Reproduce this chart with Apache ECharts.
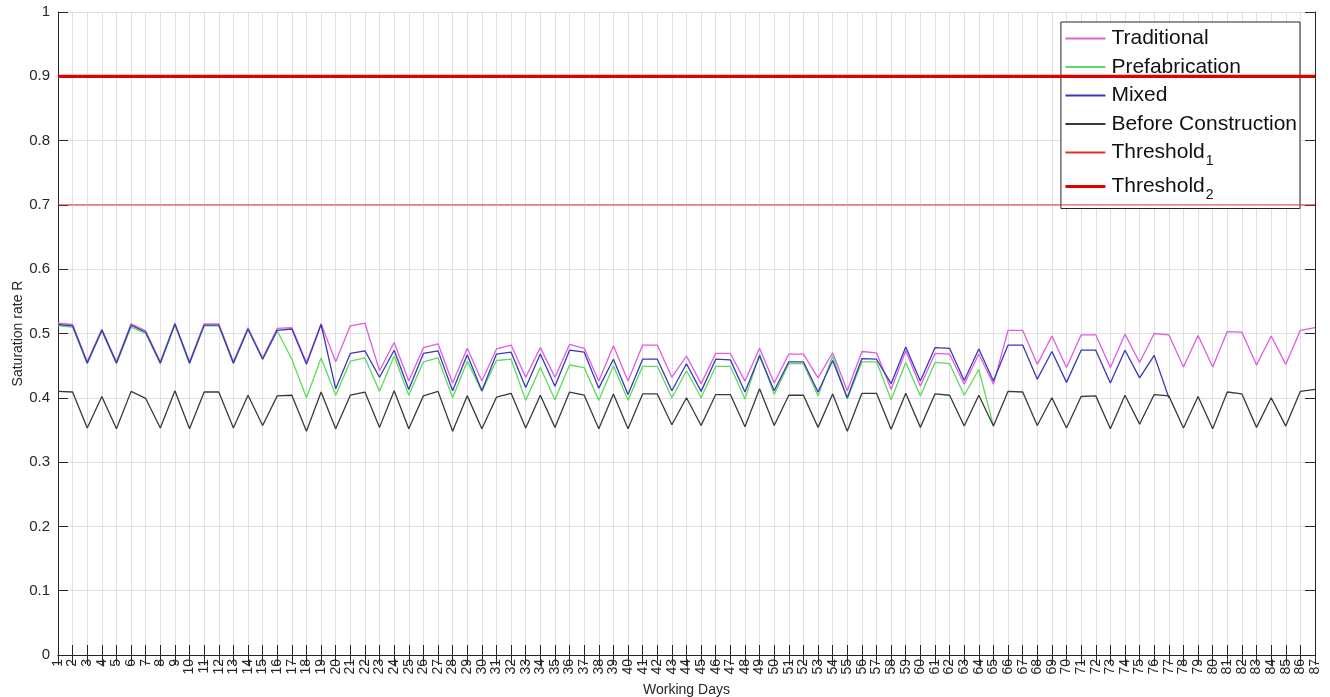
<!DOCTYPE html>
<html>
<head>
<meta charset="utf-8">
<script src="https://cdn.jsdelivr.net/npm/echarts@6/dist/echarts.min.js"></script>
<style>html,body{margin:0;padding:0;background:#fff}#c{width:1330px;height:697px}</style>
</head>
<body>
<div id="c"></div>
<script>
const days = ['1','2','3','4','5','6','7','8','9','10','11','12','13','14','15','16','17','18','19','20','21','22','23','24','25','26','27','28','29','30','31','32','33','34','35','36','37','38','39','40','41','42','43','44','45','46','47','48','49','50','51','52','53','54','55','56','57','58','59','60','61','62','63','64','65','66','67','68','69','70','71','72','73','74','75','76','77','78','79','80','81','82','83','84','85','86','87'];

const traditional = [0.516,0.514,0.456,0.507,0.456,0.515,0.504,0.456,0.516,0.456,0.515,0.515,0.456,0.509,0.462,0.508,0.509,0.455,0.515,0.456,0.512,0.516,0.442,0.486,0.426,0.478,0.484,0.423,0.477,0.426,0.476,0.482,0.432,0.478,0.432,0.483,0.477,0.426,0.481,0.426,0.482,0.482,0.432,0.465,0.422,0.469,0.469,0.426,0.477,0.423,0.468,0.468,0.431,0.470,0.411,0.472,0.470,0.413,0.473,0.418,0.469,0.468,0.421,0.468,0.421,0.505,0.505,0.452,0.496,0.447,0.498,0.498,0.447,0.499,0.455,0.500,0.498,0.448,0.497,0.448,0.503,0.502,0.451,0.496,0.452,0.505,0.509];

const prefabrication = [0.512,0.510,0.453,0.504,0.453,0.510,0.500,0.453,0.513,0.453,0.512,0.512,0.453,0.507,0.460,0.504,0.460,0.400,0.462,0.404,0.457,0.462,0.410,0.465,0.404,0.456,0.462,0.400,0.457,0.410,0.458,0.460,0.396,0.447,0.397,0.451,0.447,0.396,0.450,0.396,0.449,0.449,0.400,0.442,0.400,0.449,0.449,0.398,0.468,0.405,0.453,0.453,0.403,0.465,0.398,0.456,0.456,0.397,0.455,0.403,0.455,0.453,0.404,0.444,0.356];

const mixed = [0.514,0.512,0.454,0.505,0.454,0.513,0.502,0.454,0.515,0.454,0.513,0.513,0.454,0.507,0.460,0.505,0.507,0.452,0.514,0.414,0.469,0.473,0.432,0.474,0.413,0.469,0.473,0.411,0.467,0.411,0.468,0.471,0.416,0.468,0.418,0.474,0.471,0.415,0.460,0.405,0.460,0.460,0.411,0.453,0.410,0.460,0.459,0.409,0.465,0.411,0.456,0.456,0.409,0.458,0.400,0.461,0.460,0.422,0.479,0.426,0.478,0.477,0.427,0.476,0.426,0.482,0.482,0.429,0.472,0.424,0.474,0.474,0.423,0.474,0.431,0.466,0.400];

const beforeConstruction = [0.410,0.409,0.353,0.402,0.352,0.410,0.399,0.353,0.411,0.352,0.409,0.409,0.353,0.404,0.357,0.403,0.404,0.348,0.409,0.352,0.404,0.409,0.354,0.411,0.352,0.403,0.410,0.348,0.403,0.352,0.401,0.407,0.353,0.404,0.354,0.409,0.404,0.352,0.406,0.352,0.406,0.406,0.358,0.400,0.357,0.405,0.405,0.355,0.414,0.357,0.404,0.404,0.354,0.406,0.348,0.407,0.407,0.351,0.407,0.354,0.406,0.404,0.356,0.404,0.356,0.410,0.409,0.357,0.400,0.353,0.402,0.403,0.352,0.404,0.359,0.405,0.403,0.353,0.402,0.352,0.409,0.406,0.354,0.400,0.356,0.410,0.413];

const threshold1 = 0.7;
const threshold2 = 0.9;

const FONT = "'Liberation Sans', Arial, sans-serif";
const AX = '#262626';

const chart = echarts.init(document.getElementById('c'), null, {renderer: 'canvas'});

function lineSeries(name, data, color, width, z) {
  return {
    name: name, type: 'line', data: data, xAxisIndex: 0, yAxisIndex: 0,
    symbol: 'none', showSymbol: false, animation: false, z: z,
    lineStyle: {color: color, width: width}, itemStyle: {color: color}
  };
}

const option = {
  animation: false,
  backgroundColor: '#fff',
  textStyle: {fontFamily: FONT},
  grid: {left: 58, right: 15, top: 12, bottom: 42, containLabel: false, outerBoundsMode: 'none'},
  legend: {
    orient: 'vertical', right: 30, top: 22,
    backgroundColor: '#fff', borderColor: AX, borderWidth: 1,
    padding: [6, 3, 6, 3], itemGap: 7.5, itemWidth: 40, itemHeight: 16,
    itemStyle: {opacity: 0, borderWidth: 0},
    data: ['Traditional', 'Prefabrication', 'Mixed', 'Before Construction', 'Threshold1',
      {name: 'Threshold2', lineStyle: {width: 3, color: '#e00000'}}],
    formatter: function (n) { return n.replace(/^Threshold(\d)$/, 'Threshold{sub|$1}'); },
    textStyle: {
      fontFamily: FONT, fontSize: 21, color: '#111', padding: [0, 0, 0, 1],
      rich: {sub: {fontFamily: FONT, fontSize: 14, color: '#111', padding: [18, 0, 0, 1]}}
    }
  },
  xAxis: [{
    type: 'category', data: days, boundaryGap: false,
    name: 'Working Days', nameLocation: 'middle', nameGap: 28, nameMoveOverlap: false,
    nameTextStyle: {fontSize: 14, color: AX, fontFamily: FONT},
    axisLine: {show: true, lineStyle: {color: AX, width: 1}},
    axisTick: {show: true, inside: true, length: 10, interval: 0, lineStyle: {color: AX}},
    axisLabel: {interval: 0, rotate: 90, fontSize: 14, color: AX, margin: 4, fontFamily: FONT},
    splitLine: {show: true, interval: 0, lineStyle: {color: '#e0e0e0', width: 1}}
  }, {
    type: 'category', data: days, boundaryGap: false, position: 'top',
    axisLine: {show: true, lineStyle: {color: AX, width: 1}},
    axisTick: {show: true, inside: true, length: 10, interval: 0, lineStyle: {color: AX}},
    axisLabel: {show: false}, splitLine: {show: false}
  }],
  yAxis: [{
    type: 'value', min: 0, max: 1, interval: 0.1,
    name: 'Saturation rate R', nameLocation: 'middle', nameGap: 33, nameMoveOverlap: false,
    nameTextStyle: {fontSize: 14, color: AX, fontFamily: FONT},
    axisLine: {show: true, lineStyle: {color: AX, width: 1}},
    axisTick: {show: true, inside: true, length: 10, lineStyle: {color: AX}},
    axisLabel: {fontSize: 15, color: AX, margin: 8, fontFamily: FONT},
    splitLine: {show: true, lineStyle: {color: '#e0e0e0', width: 1}}
  }, {
    type: 'value', min: 0, max: 1, interval: 0.1, position: 'right',
    axisLine: {show: true, lineStyle: {color: AX, width: 1}},
    axisTick: {show: true, inside: true, length: 10, lineStyle: {color: AX}},
    axisLabel: {show: false}, splitLine: {show: false}
  }],
  series: [
    lineSeries('Traditional', traditional, '#e05ce0', 1.3, 3),
    lineSeries('Prefabrication', prefabrication, '#5cdc5c', 1.3, 4),
    lineSeries('Mixed', mixed, '#3838b8', 1.3, 5),
    lineSeries('Before Construction', beforeConstruction, '#3a3a3a', 1.3, 6),
    lineSeries('Threshold1', days.map(function () { return threshold1; }), '#e23030', 1, 7),
    lineSeries('Threshold2', days.map(function () { return threshold2; }), '#e00000', 3.2, 8)
  ]
};
chart.setOption(option);
</script>
</body>
</html>
